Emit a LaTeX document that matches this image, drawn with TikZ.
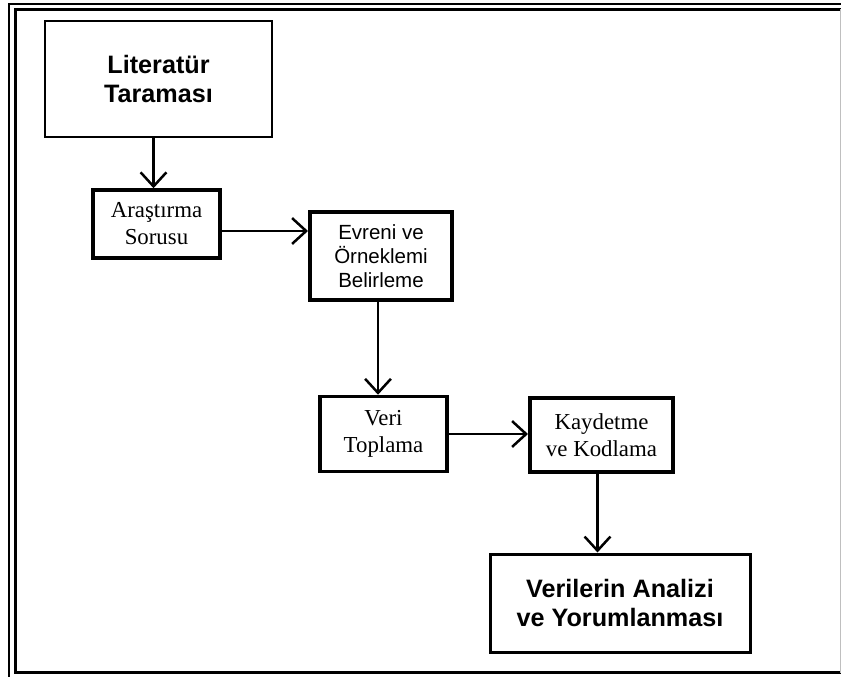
\documentclass[tikz,border=0pt]{standalone}
\usepackage{fontspec}
\setmainfont{Liberation Serif}
\newfontfamily\sansfont{Liberation Sans}
\usetikzlibrary{arrows.meta}

\def\px{0.03cm} % one pixel of the reference

\begin{document}
\begin{tikzpicture}[
    x=\px, y=-\px,
    box/.style={draw, inner sep=0pt, align=center},
    bigbox/.style={box, line width=2.5*\px, font=\sansfont\bfseries\fontsize{21.5}{25}\selectfont},
    serbox/.style={box, line width=3.5*\px, font=\fontsize{19.5}{23}\selectfont},
    sanbox/.style={box, line width=4*\px, font=\sansfont\fontsize{17.5}{20.5}\selectfont},
    arr/.style={line width=2.5*\px, -{Straight Barb[length=12pt,width=22pt]}}]

  \useasboundingbox (0,0) rectangle (841,677);

  %% Frame (double line on top and left)
  \draw[line width=2*\px] (8.5,677) -- (8.5,4) -- (841,4);
  \draw[line width=3*\px] (841,9.5) -- (15.5,9.5) -- (15.5,672.5) -- (841,672.5);
  \draw[black!25,line width=1*\px] (840,9.5) -- (840,672.5);

  %% Steps
  \node[bigbox, minimum width=227*\px, minimum height=116*\px] (lit) at (158.5,79) {Literatür\\Taraması};
  \node[serbox, minimum width=127*\px, minimum height=68*\px] (ars) at (156.5,224) {Araştırma\\Sorusu};
  \node[sanbox, minimum width=142*\px, minimum height=88*\px] (evr) at (381,256) {Evreni ve\\Örneklemi\\Belirleme};
  \node[serbox, minimum width=127*\px, minimum height=75*\px] (veri) at (383.5,434) {Veri\\Toplama};
  \node[serbox, line width=4*\px, minimum width=143*\px, minimum height=74*\px] (kay) at (601.5,435) {Kaydetme\\ve Kodlama};
  \node[bigbox, line width=3*\px, minimum width=260*\px, minimum height=98*\px] (ver) at (620,603) {Verilerin Analizi\\ve Yorumlanması};

  %% Connectors
  \draw[arr] ([xshift=-5*\px]lit.south) -- ([xshift=-5*\px]lit.south |- ars.north);
  \draw[arr] ([yshift=-7*\px]ars.east) -- ([yshift=-7*\px]ars.east -| evr.west);
  \draw[arr] ([xshift=-3*\px]evr.south) -- ([xshift=-3*\px]evr.south |- veri.north);
  \draw[arr] (veri.east) -- (veri.east -| kay.west);
  \draw[arr] ([xshift=-4*\px]kay.south) -- ([xshift=-4*\px]kay.south |- ver.north);

\end{tikzpicture}
\end{document}
